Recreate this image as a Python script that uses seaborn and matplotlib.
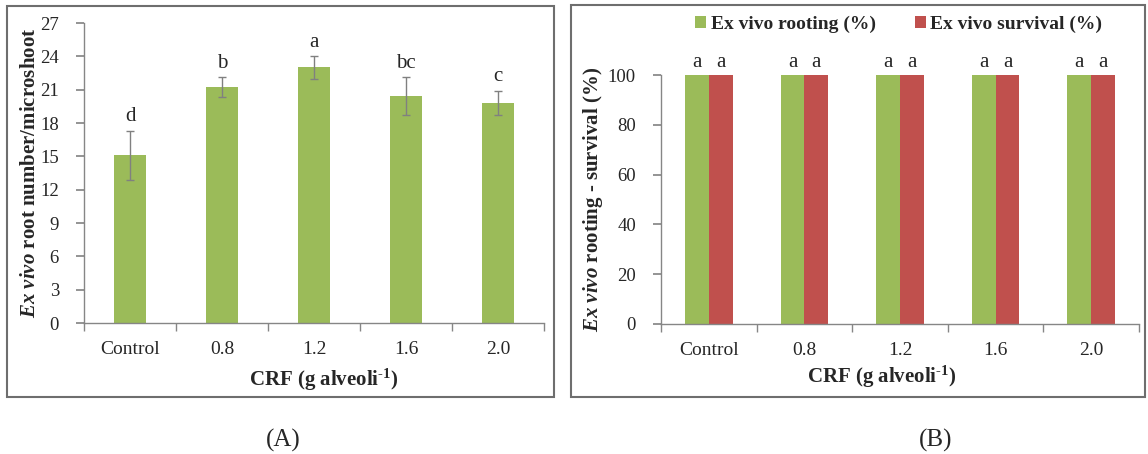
import numpy as np
import pandas as pd
import matplotlib
matplotlib.use("Agg")
import matplotlib.pyplot as plt
import seaborn as sns
from matplotlib.patches import Rectangle

# ---------------- data ----------------
categories = ["Control", "0.8", "1.2", "1.6", "2.0"]
root_number = [15.1, 21.2, 23.0, 20.4, 19.8]
root_err = [2.2, 0.9, 1.0, 1.7, 1.1]
root_letters = ["d", "b", "a", "bc", "c"]

rooting_pct = [100, 100, 100, 100, 100]
survival_pct = [100, 100, 100, 100, 100]
series_names = ["Ex vivo rooting (%)", "Ex vivo survival (%)"]
pct_letters = ["a", "a", "a", "a", "a"]

green = "#9BBB59"
red = "#C0504D"
axis_gray = "#868686"

sns.set_theme(style="white")
plt.rcParams["font.family"] = ["Liberation Serif", "DejaVu Serif"]
plt.rcParams["mathtext.fontset"] = "custom"
plt.rcParams["mathtext.rm"] = "Liberation Serif:bold"
plt.rcParams["mathtext.it"] = "Liberation Serif:italic:bold"
plt.rcParams["mathtext.bf"] = "Liberation Serif:bold"

W, H = 1148, 454
fig = plt.figure(figsize=(W / 100, H / 100), dpi=100)

def fx(px):
    return px / W

def fy(py):
    return 1 - py / H

axA = fig.add_axes([fx(84), fy(323), fx(544) - fx(84), fy(23) - fy(323)])
axB = fig.add_axes([fx(661), fy(324), fx(1139) - fx(661), fy(75) - fy(324)])

tick_fs = 14
ytick_fs = 13.5
label_fs = 15
xlabel_text = r"CRF (g alveoli$^{\text{-1}}$)"

# ---------------- panel A ----------------
dfA = pd.DataFrame({"CRF": categories, "roots": root_number})
sns.barplot(data=dfA, x="CRF", y="roots", color=green, width=0.34,
            saturation=1, ax=axA, edgecolor="none")
xs = np.arange(len(categories))
axA.errorbar(xs, root_number, yerr=root_err, fmt="none", ecolor="#808080",
             elinewidth=1, capsize=3, capthick=1)
for x, v, e, t in zip(xs, root_number, root_err, root_letters):
    axA.annotate(t, (x, v + e), xytext=(0, 7), textcoords="offset points",
                 ha="center", va="baseline", fontsize=tick_fs + 1)
axA.set_ylim(0, 27)
axA.set_yticks(np.arange(0, 28, 3))
axA.set_ylabel(r"$Ex\ vivo$ root number/microshoot", fontsize=label_fs,
               fontweight="bold")
axA.set_xlabel(xlabel_text, fontsize=label_fs, fontweight="bold")
axA.yaxis.set_label_coords(-0.117, 0.5)
axA.yaxis.label.set_verticalalignment("center")
axA.xaxis.set_label_coords(0.522, -0.19)
axA.xaxis.label.set_verticalalignment("center")

# ---------------- panel B ----------------
dfB = pd.DataFrame({
    "CRF": categories * 2,
    "pct": rooting_pct + survival_pct,
    "series": [series_names[0]] * len(categories) + [series_names[1]] * len(categories),
})
sns.barplot(data=dfB, x="CRF", y="pct", hue="series", palette=[green, red],
            width=0.5, saturation=1, ax=axB, edgecolor="none")
for cont in axB.containers:
    for bar, t in zip(cont, pct_letters):
        cx = bar.get_x() + bar.get_width() / 2
        axB.annotate(t, (cx, bar.get_height()), xytext=(0, 6),
                     textcoords="offset points", ha="center", va="baseline",
                     fontsize=tick_fs + 1)
axB.set_ylim(0, 100)
axB.set_yticks(np.arange(0, 101, 20))
axB.set_ylabel(r"$Ex\ vivo$ rooting - survival (%)", fontsize=label_fs,
               fontweight="bold")
axB.set_xlabel(xlabel_text, fontsize=label_fs, fontweight="bold")
axB.yaxis.set_label_coords(-0.142, 0.5)
axB.yaxis.label.set_verticalalignment("center")
axB.xaxis.set_label_coords(0.462, -0.213)
axB.xaxis.label.set_verticalalignment("center")
leg = axB.legend(loc="center", bbox_to_anchor=(fx(899), fy(24)),
                 bbox_transform=fig.transFigure, ncol=2, frameon=False,
                 prop={"family": "Liberation Serif", "weight": "bold", "size": 14},
                 handlelength=0.55, handleheight=0.55, handletextpad=0.25,
                 columnspacing=2.0, borderpad=0)

# ---------------- shared styling ----------------
for ax in (axA, axB):
    sns.despine(ax=ax)
    ax.spines["left"].set_color(axis_gray)
    ax.spines["bottom"].set_color(axis_gray)
    ax.spines["left"].set_linewidth(1)
    ax.spines["bottom"].set_linewidth(1)
    ax.set_xlim(-0.5, len(categories) - 0.5)
    ax.set_xticks(np.arange(len(categories)))
    ax.set_xticklabels(categories)
    ax.set_xticks(np.arange(-0.5, len(categories), 1), minor=True)
    ax.tick_params(axis="x", which="major", length=0, pad=13, labelsize=tick_fs)
    ax.tick_params(axis="x", which="minor", length=6, color=axis_gray,
                   direction="out", bottom=True)
    ax.tick_params(axis="y", length=6, color=axis_gray, direction="out",
                   left=True, labelsize=ytick_fs, pad=12)
    ax.grid(False)

# panel frames
fig.patches.append(Rectangle((fx(7), fy(397)), fx(554) - fx(7), fy(6) - fy(397),
                             transform=fig.transFigure, fill=False,
                             edgecolor="#6e6e6e", linewidth=1.5))
fig.patches.append(Rectangle((fx(571), fy(397)), fx(1145) - fx(571), fy(5) - fy(397),
                             transform=fig.transFigure, fill=False,
                             edgecolor="#6e6e6e", linewidth=1.5))

fig.text(fx(283), fy(440), "(A)", ha="center", va="center", fontsize=18)
fig.text(fx(936), fy(440), "(B)", ha="center", va="center", fontsize=18)

fig.savefig("out.png", dpi=100)
